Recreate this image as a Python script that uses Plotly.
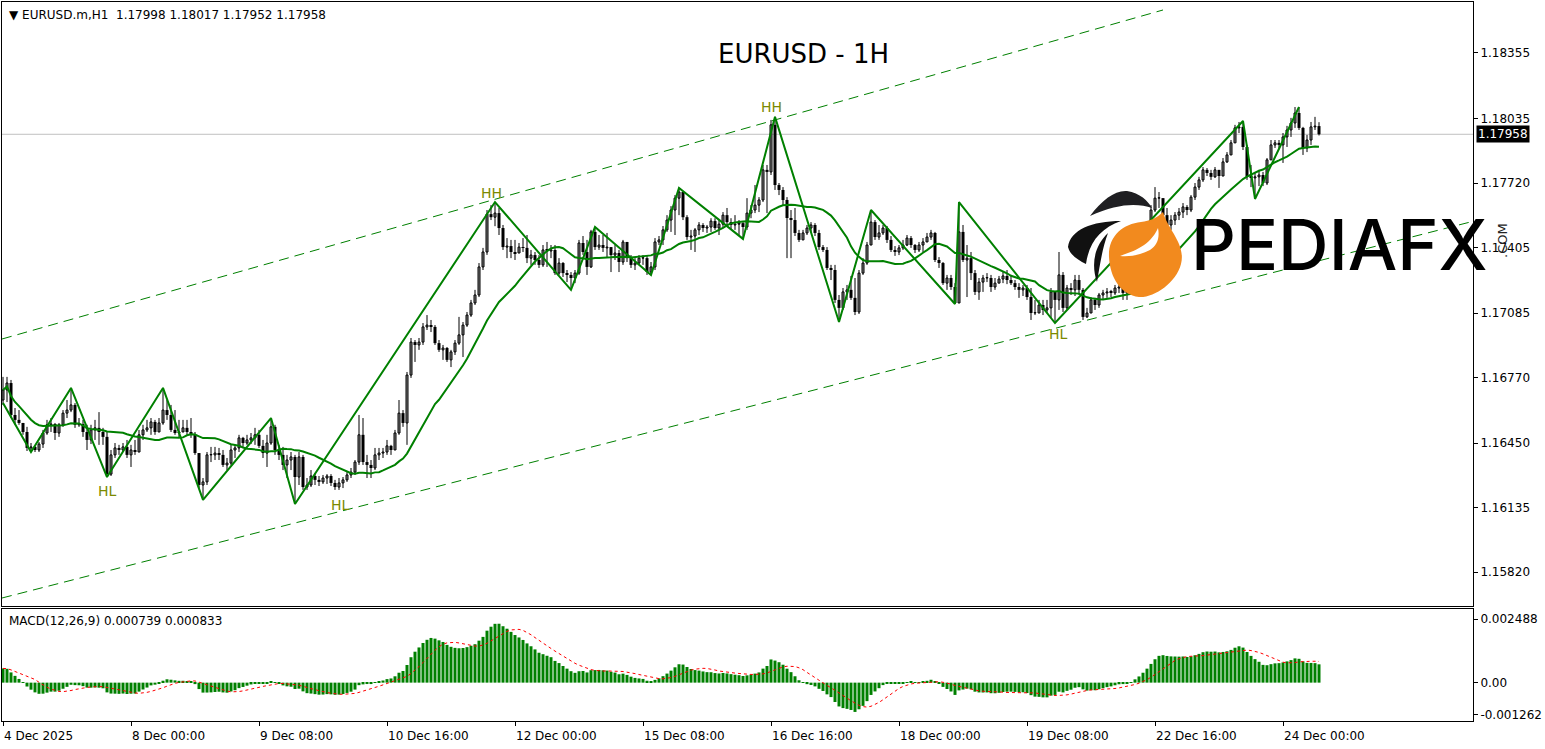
import numpy as np
import pandas as pd
import plotly.graph_objects as go

# ---------------- data ----------------
DATE_TICKS = [0, 32, 64, 96, 128, 160, 192, 224, 256, 288, 320]
DATE_LABELS = ["4 Dec 2025", "8 Dec 00:00", "9 Dec 08:00", "10 Dec 16:00", "12 Dec 00:00",
               "15 Dec 08:00", "16 Dec 16:00", "18 Dec 00:00", "19 Dec 08:00",
               "22 Dec 16:00", "24 Dec 00:00"]
PRICE_TICKS = [1.18355, 1.18035, 1.17720, 1.17405, 1.17085, 1.16770, 1.16450, 1.16135, 1.15820]
MACD_TICKS = [0.002488, 0.0, -0.001262]
MACD_TICK_LABELS = ["0.002488", "0.00", "-0.001262"]
LAST_PRICE = 1.17958

OPEN_FIRST = 1.16660
CLOSE = [
    1.16709, 1.16743, 1.16587, 1.16563, 1.16548, 1.16504, 1.16426, 1.16431, 1.16416, 1.16445,
    1.16499, 1.16539, 1.16543, 1.16499, 1.16539, 1.16596, 1.16611, 1.16636, 1.16539, 1.16543,
    1.16504, 1.16465, 1.16514, 1.16524, 1.16504, 1.16480, 1.16298, 1.16392, 1.16426, 1.16416,
    1.16431, 1.16392, 1.16416, 1.16406, 1.16490, 1.16514, 1.16524, 1.16553, 1.16504, 1.16548,
    1.16611, 1.16587, 1.16514, 1.16499, 1.16504, 1.16524, 1.16504, 1.16490, 1.16401, 1.16245,
    1.16260, 1.16392, 1.16392, 1.16401, 1.16392, 1.16343, 1.16352, 1.16416, 1.16426, 1.16475,
    1.16450, 1.16465, 1.16475, 1.16490, 1.16436, 1.16401, 1.16450, 1.16529, 1.16416, 1.16392,
    1.16343, 1.16367, 1.16382, 1.16284, 1.16382, 1.16235, 1.16245, 1.16289, 1.16270, 1.16260,
    1.16279, 1.16289, 1.16255, 1.16235, 1.16255, 1.16270, 1.16294, 1.16308, 1.16357, 1.16490,
    1.16357, 1.16343, 1.16328, 1.16392, 1.16401, 1.16406, 1.16436, 1.16416, 1.16499, 1.16596,
    1.16548, 1.16782, 1.16943, 1.16929, 1.16943, 1.17017, 1.17026, 1.17017, 1.16938, 1.16905,
    1.16914, 1.16856, 1.16895, 1.16938, 1.16978, 1.17026, 1.17075, 1.17134, 1.17173, 1.17310,
    1.17383, 1.17568, 1.17553, 1.17573, 1.17500, 1.17407, 1.17412, 1.17383, 1.17378, 1.17407,
    1.17403, 1.17353, 1.17368, 1.17344, 1.17320, 1.17393, 1.17388, 1.17393, 1.17280, 1.17329,
    1.17280, 1.17271, 1.17256, 1.17280, 1.17427, 1.17383, 1.17310, 1.17481, 1.17407, 1.17417,
    1.17403, 1.17407, 1.17368, 1.17378, 1.17334, 1.17432, 1.17353, 1.17320, 1.17329, 1.17353,
    1.17353, 1.17285, 1.17310, 1.17432, 1.17442, 1.17491, 1.17539, 1.17588, 1.17646, 1.17676,
    1.17553, 1.17456, 1.17461, 1.17491, 1.17515, 1.17500, 1.17505, 1.17534, 1.17500, 1.17519,
    1.17563, 1.17529, 1.17515, 1.17519, 1.17524, 1.17505, 1.17573, 1.17588, 1.17612, 1.17637,
    1.17784, 1.17774, 1.18004, 1.17710, 1.17686, 1.17637, 1.17549, 1.17539, 1.17476, 1.17442,
    1.17476, 1.17500, 1.17515, 1.17476, 1.17407, 1.17393, 1.17305, 1.17295, 1.17149, 1.17110,
    1.17188, 1.17198, 1.17159, 1.17090, 1.17280, 1.17329, 1.17417, 1.17529, 1.17456, 1.17476,
    1.17500, 1.17442, 1.17393, 1.17383, 1.17403, 1.17417, 1.17451, 1.17417, 1.17393, 1.17417,
    1.17432, 1.17456, 1.17476, 1.17344, 1.17329, 1.17231, 1.17256, 1.17212, 1.17134, 1.17481,
    1.17344, 1.17353, 1.17280, 1.17188, 1.17236, 1.17256, 1.17256, 1.17212, 1.17231, 1.17251,
    1.17266, 1.17246, 1.17231, 1.17212, 1.17198, 1.17207, 1.17163, 1.17085, 1.17085, 1.17124,
    1.17100, 1.17110, 1.17188, 1.17149, 1.17271, 1.17110, 1.17207, 1.17198, 1.17246, 1.17198,
    1.17066, 1.17085, 1.17149, 1.17124, 1.17173, 1.17183, 1.17188, 1.17183, 1.17207, 1.17212,
    1.17183, 1.17198, 1.17246, 1.17334, 1.17368, 1.17442, 1.17505, 1.17588, 1.17646, 1.17646,
    1.17563, 1.17515, 1.17539, 1.17563, 1.17578, 1.17603, 1.17588, 1.17651, 1.17700, 1.17735,
    1.17784, 1.17769, 1.17750, 1.17784, 1.17754, 1.17823, 1.17857, 1.17916, 1.17989, 1.17994,
    1.17896, 1.17750, 1.17745, 1.17750, 1.17759, 1.17720, 1.17833, 1.17906, 1.17916, 1.17906,
    1.17945, 1.17979, 1.18013, 1.18062, 1.17989, 1.17891, 1.17930, 1.17994, 1.17998, 1.17958,
]
HIGH = [
    1.16773, 1.16773, 1.16758, 1.16621, 1.16611, 1.16543, 1.16529, 1.16450, 1.16436, 1.16455,
    1.16514, 1.16563, 1.16572, 1.16548, 1.16548, 1.16611, 1.16660, 1.16719, 1.16645, 1.16572,
    1.16563, 1.16539, 1.16539, 1.16563, 1.16601, 1.16524, 1.16504, 1.16416, 1.16450, 1.16441,
    1.16450, 1.16465, 1.16441, 1.16465, 1.16514, 1.16539, 1.16563, 1.16572, 1.16563, 1.16572,
    1.16719, 1.16660, 1.16636, 1.16611, 1.16563, 1.16563, 1.16563, 1.16572, 1.16504, 1.16401,
    1.16279, 1.16406, 1.16431, 1.16431, 1.16426, 1.16416, 1.16377, 1.16441, 1.16441, 1.16490,
    1.16480, 1.16490, 1.16499, 1.16524, 1.16514, 1.16465, 1.16490, 1.16572, 1.16539, 1.16441,
    1.16431, 1.16392, 1.16406, 1.16392, 1.16406, 1.16392, 1.16279, 1.16318, 1.16304, 1.16289,
    1.16294, 1.16298, 1.16298, 1.16270, 1.16279, 1.16284, 1.16308, 1.16328, 1.16367, 1.16587,
    1.16572, 1.16392, 1.16367, 1.16426, 1.16426, 1.16426, 1.16465, 1.16441, 1.16514, 1.16660,
    1.16611, 1.16797, 1.16963, 1.16953, 1.16963, 1.17036, 1.17075, 1.17051, 1.17026, 1.16953,
    1.16929, 1.16919, 1.16905, 1.16953, 1.17066, 1.17041, 1.17090, 1.17149, 1.17198, 1.17329,
    1.17403, 1.17588, 1.17612, 1.17627, 1.17598, 1.17515, 1.17451, 1.17442, 1.17442, 1.17427,
    1.17451, 1.17466, 1.17393, 1.17383, 1.17368, 1.17417, 1.17432, 1.17417, 1.17417, 1.17353,
    1.17334, 1.17295, 1.17285, 1.17295, 1.17442, 1.17461, 1.17442, 1.17491, 1.17505, 1.17466,
    1.17466, 1.17476, 1.17407, 1.17417, 1.17393, 1.17442, 1.17417, 1.17368, 1.17353, 1.17368,
    1.17368, 1.17368, 1.17334, 1.17451, 1.17461, 1.17510, 1.17563, 1.17607, 1.17661, 1.17696,
    1.17661, 1.17563, 1.17491, 1.17500, 1.17529, 1.17524, 1.17515, 1.17548, 1.17548, 1.17539,
    1.17578, 1.17598, 1.17548, 1.17563, 1.17539, 1.17529, 1.17646, 1.17612, 1.17710, 1.17651,
    1.17808, 1.17808, 1.18028, 1.18043, 1.17720, 1.17700, 1.17651, 1.17588, 1.17598, 1.17491,
    1.17491, 1.17515, 1.17529, 1.17524, 1.17491, 1.17417, 1.17407, 1.17320, 1.17320, 1.17173,
    1.17207, 1.17222, 1.17266, 1.17256, 1.17295, 1.17353, 1.17432, 1.17588, 1.17539, 1.17515,
    1.17515, 1.17510, 1.17461, 1.17412, 1.17417, 1.17442, 1.17466, 1.17461, 1.17422, 1.17432,
    1.17451, 1.17476, 1.17491, 1.17481, 1.17358, 1.17334, 1.17271, 1.17271, 1.17231, 1.17627,
    1.17515, 1.17417, 1.17383, 1.17295, 1.17256, 1.17271, 1.17280, 1.17271, 1.17256, 1.17266,
    1.17285, 1.17295, 1.17271, 1.17246, 1.17231, 1.17222, 1.17222, 1.17207, 1.17149, 1.17149,
    1.17149, 1.17149, 1.17207, 1.17173, 1.17383, 1.17285, 1.17222, 1.17231, 1.17271, 1.17271,
    1.17207, 1.17110, 1.17163, 1.17159, 1.17183, 1.17198, 1.17207, 1.17198, 1.17222, 1.17246,
    1.17207, 1.17222, 1.17271, 1.17368, 1.17393, 1.17466, 1.17529, 1.17612, 1.17700, 1.17676,
    1.17646, 1.17598, 1.17563, 1.17578, 1.17598, 1.17622, 1.17612, 1.17661, 1.17720, 1.17750,
    1.17798, 1.17793, 1.17784, 1.17798, 1.17784, 1.17842, 1.17871, 1.17930, 1.18004, 1.18018,
    1.18023, 1.17906, 1.17808, 1.17774, 1.17784, 1.17774, 1.17842, 1.17930, 1.17930, 1.17930,
    1.17964, 1.17999, 1.18038, 1.18091, 1.18091, 1.17994, 1.17955, 1.18018, 1.18043, 1.18017,
]
LOW = [
    1.16636, 1.16650, 1.16572, 1.16539, 1.16539, 1.16490, 1.16411, 1.16406, 1.16406, 1.16406,
    1.16426, 1.16490, 1.16504, 1.16465, 1.16480, 1.16529, 1.16572, 1.16601, 1.16524, 1.16529,
    1.16480, 1.16416, 1.16445, 1.16465, 1.16441, 1.16441, 1.16284, 1.16289, 1.16377, 1.16392,
    1.16406, 1.16377, 1.16333, 1.16392, 1.16406, 1.16465, 1.16504, 1.16490, 1.16490, 1.16504,
    1.16539, 1.16563, 1.16504, 1.16490, 1.16475, 1.16504, 1.16490, 1.16475, 1.16392, 1.16230,
    1.16172, 1.16245, 1.16357, 1.16367, 1.16367, 1.16333, 1.16318, 1.16343, 1.16377, 1.16406,
    1.16431, 1.16441, 1.16445, 1.16441, 1.16426, 1.16377, 1.16333, 1.16441, 1.16392, 1.16367,
    1.16318, 1.16279, 1.16318, 1.16152, 1.16245, 1.16221, 1.16221, 1.16235, 1.16245, 1.16240,
    1.16250, 1.16250, 1.16240, 1.16221, 1.16221, 1.16230, 1.16260, 1.16279, 1.16294, 1.16343,
    1.16343, 1.16279, 1.16279, 1.16318, 1.16367, 1.16377, 1.16392, 1.16392, 1.16416, 1.16490,
    1.16529, 1.16441, 1.16768, 1.16846, 1.16905, 1.16929, 1.17002, 1.16992, 1.16929, 1.16895,
    1.16856, 1.16846, 1.16821, 1.16880, 1.16929, 1.16870, 1.17017, 1.17066, 1.17124, 1.17163,
    1.17295, 1.17369, 1.17539, 1.17509, 1.17466, 1.17393, 1.17353, 1.17353, 1.17344, 1.17378,
    1.17383, 1.17329, 1.17320, 1.17320, 1.17305, 1.17310, 1.17310, 1.17353, 1.17271, 1.17271,
    1.17261, 1.17236, 1.17198, 1.17231, 1.17271, 1.17369, 1.17271, 1.17305, 1.17393, 1.17393,
    1.17383, 1.17358, 1.17285, 1.17344, 1.17285, 1.17320, 1.17334, 1.17305, 1.17295, 1.17320,
    1.17320, 1.17271, 1.17271, 1.17295, 1.17417, 1.17417, 1.17481, 1.17481, 1.17466, 1.17563,
    1.17539, 1.17442, 1.17393, 1.17383, 1.17466, 1.17481, 1.17476, 1.17481, 1.17491, 1.17466,
    1.17500, 1.17510, 1.17491, 1.17491, 1.17466, 1.17447, 1.17491, 1.17548, 1.17573, 1.17578,
    1.17627, 1.17573, 1.17759, 1.17686, 1.17661, 1.17612, 1.17353, 1.17353, 1.17461, 1.17432,
    1.17442, 1.17466, 1.17481, 1.17461, 1.17393, 1.17383, 1.17295, 1.17246, 1.17134, 1.17041,
    1.17100, 1.17149, 1.17149, 1.17075, 1.17080, 1.17271, 1.17320, 1.17417, 1.17442, 1.17442,
    1.17466, 1.17427, 1.17383, 1.17364, 1.17368, 1.17393, 1.17412, 1.17403, 1.17378, 1.17383,
    1.17383, 1.17432, 1.17442, 1.17334, 1.17305, 1.17222, 1.17198, 1.17198, 1.17129, 1.17134,
    1.17334, 1.17163, 1.17246, 1.17173, 1.17149, 1.17188, 1.17236, 1.17188, 1.17198, 1.17231,
    1.17231, 1.17226, 1.17222, 1.17198, 1.17159, 1.17168, 1.17149, 1.17051, 1.17075, 1.17090,
    1.17075, 1.17085, 1.17061, 1.17036, 1.17100, 1.17090, 1.17100, 1.17173, 1.17168, 1.17173,
    1.17051, 1.17061, 1.17090, 1.17100, 1.17110, 1.17149, 1.17159, 1.17163, 1.17173, 1.17183,
    1.17149, 1.17149, 1.17188, 1.17231, 1.17320, 1.17353, 1.17432, 1.17500, 1.17578, 1.17598,
    1.17549, 1.17500, 1.17491, 1.17515, 1.17539, 1.17549, 1.17563, 1.17578, 1.17637, 1.17686,
    1.17725, 1.17754, 1.17735, 1.17745, 1.17696, 1.17759, 1.17818, 1.17862, 1.17916, 1.17964,
    1.17881, 1.17735, 1.17700, 1.17642, 1.17705, 1.17705, 1.17710, 1.17833, 1.17891, 1.17891,
    1.17818, 1.17896, 1.17945, 1.17989, 1.17979, 1.17857, 1.17871, 1.17906, 1.17979, 1.17952,
]

MA_PERIOD = 20
MACD_FAST, MACD_SLOW, MACD_SIGNAL = 12, 26, 9
MACD_START = 0.0006            # MACD value at the left edge

ZZ_START = 1.16645              # zigzag enters from the left edge here
ZIGZAG = [(7, "L"), (17, "H"), (26, "L"), (40, "H"), (50, "L"), (67, "H"), (73, "L"),
          (123, "H"), (142, "L"), (148, "H"), (162, "L"), (169, "H"), (185, "L"),
          (193, "H"), (209, "L"), (217, "H"), (238, "L"), (239, "H"), (263, "L"),
          (310, "H"), (313, "L"), (324, "H")]

UPPER_LINE_BARS = [-0.25, 290.0]
UPPER_LINE_PRICES = [1.16958, 1.18565]
LOWER_LINE_BARS = [-0.25, 366.75]
LOWER_LINE_PRICES = [1.15693, 1.17529]

SWING_LABELS = [("HL", 26, 1.16216), ("HL", 84.3, 1.16148), ("HH", 122, 1.17671),
                ("HH", 192, 1.18091), ("HL", 263.8, 1.16982)]

# ---------------- derived ----------------
n = len(CLOSE)
bars = np.arange(n)
close = np.array(CLOSE)
opn = np.concatenate([[OPEN_FIRST], close[:-1]])
high = np.maximum.reduce([np.array(HIGH), opn, close])
low = np.minimum.reduce([np.array(LOW), opn, close])

ma = pd.Series(close).rolling(MA_PERIOD, min_periods=1).mean()

a_f, a_s = 2 / (MACD_FAST + 1), 2 / (MACD_SLOW + 1)
ef, es = close[0], close[0] - MACD_START
macd = []
for c in close:
    ef += a_f * (c - ef)
    es += a_s * (c - es)
    macd.append(ef - es)
macd = np.array(macd)
signal = pd.Series(macd).rolling(MACD_SIGNAL, min_periods=1).mean()

zz_x = [0] + [b for b, _ in ZIGZAG]
zz_y = [ZZ_START] + [high[b] if t == "H" else low[b] for b, t in ZIGZAG]

up = close >= opn
body_lo = np.minimum(opn, close)
body_h = np.maximum(np.abs(close - opn), 0.00002)

wick_x, wick_y = [], []
for i in range(n):
    wick_x += [i, i, None]
    wick_y += [low[i], high[i], None]

# ---------------- figure ----------------
FONT = "DejaVu Sans"
GREEN = "#008000"
W, H = 1545, 749
ML, MR, MT, MB = 2, 72, 2, 28
PW, PH = W - ML - MR, H - MT - MB


def px(x, y):
    return f"{(x - ML) / PW:.5f},{(H - MB - y) / PH:.5f}"


fig = go.Figure()
fig.add_trace(go.Scatter(x=wick_x, y=wick_y, mode="lines", line=dict(color="black", width=1),
                         showlegend=False, hoverinfo="skip", xaxis="x", yaxis="y"))
fig.add_trace(go.Bar(x=bars[up], y=body_h[up], base=body_lo[up], width=0.5,
                     marker=dict(color="white", line=dict(color="black", width=1)),
                     showlegend=False, xaxis="x", yaxis="y"))
fig.add_trace(go.Bar(x=bars[~up], y=body_h[~up], base=body_lo[~up], width=0.75,
                     marker=dict(color="black", line=dict(width=0)),
                     showlegend=False, xaxis="x", yaxis="y"))
fig.add_trace(go.Scatter(x=bars, y=ma, mode="lines", line=dict(color=GREEN, width=2),
                         showlegend=False, xaxis="x", yaxis="y"))
fig.add_trace(go.Scatter(x=zz_x, y=zz_y, mode="lines", line=dict(color=GREEN, width=2),
                         showlegend=False, xaxis="x", yaxis="y"))
for bx, by in ((UPPER_LINE_BARS, UPPER_LINE_PRICES), (LOWER_LINE_BARS, LOWER_LINE_PRICES)):
    fig.add_trace(go.Scatter(x=bx, y=by, mode="lines",
                             line=dict(color=GREEN, width=1, dash="10px,6px"),
                             showlegend=False, xaxis="x", yaxis="y"))

fig.add_trace(go.Bar(x=bars, y=macd, marker=dict(color=GREEN, line=dict(width=0)),
                     width=0.75, showlegend=False, xaxis="x2", yaxis="y2"))
fig.add_trace(go.Scatter(x=bars, y=signal, mode="lines",
                         line=dict(color="red", width=1, dash="dot"),
                         showlegend=False, xaxis="x2", yaxis="y2"))

XR = [-0.25, 367.5]
main_bottom = (H - MB - 606) / PH
macd_top = (H - MB - 609) / PH

fig.update_layout(
    width=W, height=H, margin=dict(l=ML, r=MR, t=MT, b=MB),
    paper_bgcolor="white", plot_bgcolor="white",
    font=dict(family=FONT, size=12, color="black"),
    barmode="overlay", showlegend=False,
    xaxis=dict(domain=[0, 1], anchor="y", range=XR, showgrid=False, zeroline=False,
               showline=True, mirror=True, linecolor="black", linewidth=1,
               showticklabels=False, ticks=""),
    yaxis=dict(domain=[main_bottom, 1], anchor="x", side="right",
               range=[1.15654, 1.18604], showgrid=False, zeroline=False,
               showline=True, mirror=True, linecolor="black", linewidth=1,
               tickvals=PRICE_TICKS, ticktext=[f"{v:.5f}" for v in PRICE_TICKS],
               ticks="outside", ticklen=4, tickcolor="black",
               tickfont=dict(family=FONT, size=12, color="black")),
    xaxis2=dict(domain=[0, 1], anchor="y2", range=XR, showgrid=False, zeroline=False,
                showline=True, mirror=True, linecolor="black", linewidth=1,
                tickvals=DATE_TICKS, ticktext=DATE_LABELS, ticks="outside", ticklen=4,
                tickcolor="black", ticklabelposition="outside right", ticklabelstandoff=4,
                tickfont=dict(family=FONT, size=12, color="black")),
    yaxis2=dict(domain=[0, macd_top], anchor="x2", side="right",
                range=[-0.0015, 0.00288], showgrid=False, zeroline=False,
                showline=True, mirror=True, linecolor="black", linewidth=1,
                tickvals=MACD_TICKS, ticktext=MACD_TICK_LABELS,
                ticks="outside", ticklen=4, tickcolor="black",
                tickfont=dict(family=FONT, size=12, color="black")),
)

shapes = [
    dict(type="line", xref="x", yref="y", x0=XR[0], x1=XR[1], y0=LAST_PRICE, y1=LAST_PRICE,
         line=dict(color="#c0c0c0", width=1), layer="below"),
    # logo
    dict(type="path", xref="paper", yref="paper", fillcolor="#1f1f22", line=dict(width=0),
         path=f"M{px(1090,216)} C{px(1102,200)} {px(1115,190)} {px(1127,191)} "
              f"C{px(1140,193)} {px(1148,201)} {px(1152,208)} "
              f"C{px(1138,203)} {px(1118,203)} {px(1090,216)} Z"),
    dict(type="path", xref="paper", yref="paper", fillcolor="#111111", line=dict(width=0),
         path=f"M{px(1068,247)} C{px(1070,230)} {px(1092,221)} {px(1121,221)} "
              f"C{px(1101,228)} {px(1089,242)} {px(1086,264)} "
              f"C{px(1078,260)} {px(1070,255)} {px(1068,247)} Z"),
    dict(type="path", xref="paper", yref="paper", fillcolor="#111111", line=dict(width=0),
         path=f"M{px(1097,282)} C{px(1091,265)} {px(1094,246)} {px(1108,233)} "
              f"C{px(1102,249)} {px(1100,265)} {px(1097,282)} Z"),
    dict(type="path", xref="paper", yref="paper", fillcolor="#f28a1e", line=dict(width=0),
         path=f"M{px(1109,257)} C{px(1108,236)} {px(1123,224)} {px(1141,222)} "
              f"C{px(1150,221)} {px(1157,218)} {px(1163,212)} "
              f"C{px(1168,230)} {px(1186,244)} {px(1181,264)} "
              f"C{px(1176,283)} {px(1154,298)} {px(1139,297)} "
              f"C{px(1121,295)} {px(1110,278)} {px(1109,257)} Z"),
    dict(type="path", xref="paper", yref="paper", fillcolor="white", line=dict(width=0),
         path=f"M{px(1120,256)} C{px(1134,251)} {px(1150,246)} {px(1158,228)} "
              f"C{px(1160,238)} {px(1157,246)} {px(1150,250)} "
              f"C{px(1140,255)} {px(1130,257)} {px(1120,256)} Z"),
]
fig.update_layout(shapes=shapes)

ann = [
    dict(text="\u25BC\u00a0EURUSD.m,H1\u00a0\u00a01.17998 1.18017 1.17952 1.17958",
         xref="paper", yref="paper", x=0, y=1, xanchor="left", yanchor="top",
         xshift=5, yshift=-4, showarrow=False, font=dict(family=FONT, size=12)),
    dict(text="EURUSD - 1H", xref="paper", yref="paper", x=(803 - ML) / PW,
         y=(H - MB - 54) / PH, xanchor="center", yanchor="middle", showarrow=False,
         font=dict(family=FONT, size=26, color="black")),
    dict(text="MACD(12,26,9) 0.000739 0.000833", xref="paper", yref="paper", x=0,
         y=macd_top, xanchor="left", yanchor="top", xshift=5, yshift=-3, showarrow=False,
         font=dict(family=FONT, size=12)),
    dict(text="1.17958", xref="paper", yref="y", x=1, y=LAST_PRICE, xanchor="left",
         yanchor="middle", xshift=3, showarrow=False, bgcolor="black", borderpad=1,
         font=dict(family=FONT, size=12, color="white")),
    dict(text="PEDIAFX", xref="paper", yref="paper", x=(1189 - ML) / PW,
         y=(H - MB - 244) / PH, xanchor="left", yanchor="middle", showarrow=False,
         font=dict(family="Inter", size=70, color="black", weight=500)),
    dict(text=".COM", xref="paper", yref="paper", x=(1503 - ML) / PW,
         y=(H - MB - 240) / PH, xanchor="center", yanchor="middle", showarrow=False,
         textangle=-90, font=dict(family=FONT, size=13, color="#222222")),
]
for t, b, p in SWING_LABELS:
    ann.append(dict(text=t, x=b, y=p, xref="x", yref="y", showarrow=False,
                    xanchor="center", yanchor="middle",
                    font=dict(family=FONT, size=14, color="#7b8a00")))
fig.update_layout(annotations=ann)

fig.write_html("out.html", config={"displayModeBar": False},
               post_script="document.body.style.margin='0';")
